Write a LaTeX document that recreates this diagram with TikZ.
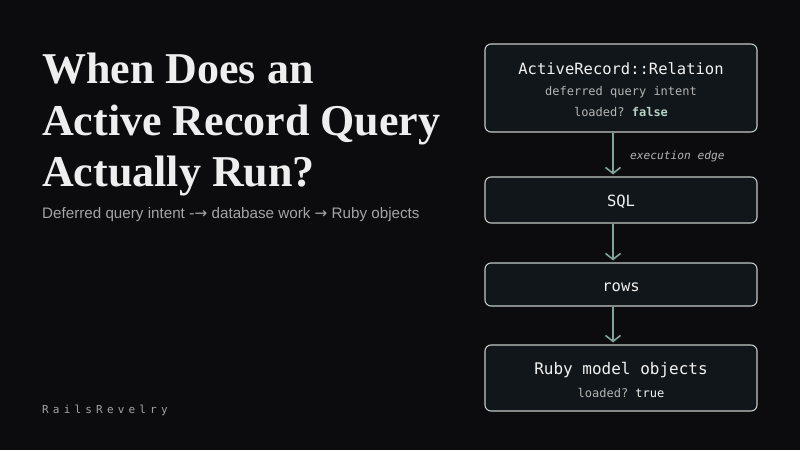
\documentclass[tikz,border=0pt]{standalone}
\usepackage{fontspec}
\setmainfont{Liberation Serif}
\setsansfont{Liberation Sans}
\setmonofont{DejaVu Sans Mono}
\newfontfamily\arrowfont{DejaVu Sans}
\definecolor{bgdark}{HTML}{0C0C0E}
\definecolor{boxfill}{HTML}{10161A}
\definecolor{boxline}{HTML}{C4CAC7}
\definecolor{sage}{HTML}{7FA696}
\definecolor{sagelight}{HTML}{B8D2C6}
\definecolor{inktitle}{HTML}{EEEEEE}
\definecolor{inkmono}{HTML}{F2F2F2}
\definecolor{inksub}{HTML}{B4B4B4}
\definecolor{inkgray}{HTML}{A4A4A4}
\usetikzlibrary{arrows.meta}

\begin{document}
\begin{tikzpicture}[x=1pt, y=-1pt,
  flowbox/.style={draw=boxline, line width=1.1pt, fill=boxfill, rounded corners=6pt,
    minimum width=272pt, inner sep=0pt},
  flow/.style={sage, line width=1.6pt, -{Straight Barb[length=6pt, width=15pt, line width=1.6pt]}},
  monomain/.style={font=\ttfamily\fontsize{15.5}{18}\selectfont, inkmono, anchor=base},
  monosub/.style={font=\ttfamily\fontsize{12}{14}\selectfont, inksub, anchor=base},
  titleline/.style={font=\bfseries\fontsize{44}{52}\selectfont, inktitle, anchor=base west, inner sep=0pt}]

% Background and page size
\fill[bgdark] (0, 0) rectangle (800, 450);
\useasboundingbox (0, 0) rectangle (800, 450);

% Title block
\node[titleline] (t1) at (42, 83) {When Does an};
\node[titleline] (t2) at (42, 135) {Active Record Query};
\node[titleline] (t3) at (42, 186) {Actually Run?};
\node[font=\sffamily\fontsize{15.2}{17}\selectfont, inkgray, anchor=base west, inner sep=0pt] (sub) at (42, 218)
  {Deferred query intent {\arrowfont-→} database work {\arrowfont→} Ruby objects};

% Brand mark
\node[font=\ttfamily\fontsize{11}{13}\selectfont\addfontfeature{LetterSpace=38}, inkgray, anchor=base west, inner sep=0pt] (brand) at (42, 413) {RailsRevelry};

% Pipeline boxes
\node[flowbox, minimum height=88pt] (rel) at (621, 88) {};
\node[flowbox, minimum height=46pt] (sql) at (621, 200) {};
\node[flowbox, minimum height=43pt] (rows) at (621, 284.5) {};
\node[flowbox, minimum height=66pt] (objs) at (621, 378) {};

% Box texts
\node[monomain] (relname) at (621, 74) {ActiveRecord::Relation};
\node[monosub] (relnote) at (621, 95) {deferred query intent};
\node[monosub] (relflag) at (621, 116) {loaded? \textbf{\textcolor{sagelight}{false}}};
\node[monomain] (sqlname) at (621, 206) {SQL};
\node[monomain] (rowsname) at (621, 291) {rows};
\node[monomain, font=\ttfamily\fontsize{16}{18}\selectfont] (objsname) at (621, 374) {Ruby model objects};
\node[monosub] (objsflag) at (621, 397) {loaded? \textcolor{inkmono}{true}};

% Connectors
\coordinate (ax) at (613, 0);
\draw[flow] (rel.south -| ax) -- ([yshift=2pt]sql.north -| ax);
\draw[flow] (sql.south -| ax) -- ([yshift=2pt]rows.north -| ax);
\draw[flow] (rows.south -| ax) -- ([yshift=2pt]objs.north -| ax);
\node[font=\ttfamily\itshape\fontsize{11.2}{13}\selectfont, inksub, anchor=base west, inner sep=0pt] (edge) at (630, 159) {execution edge};

\end{tikzpicture}
\end{document}
